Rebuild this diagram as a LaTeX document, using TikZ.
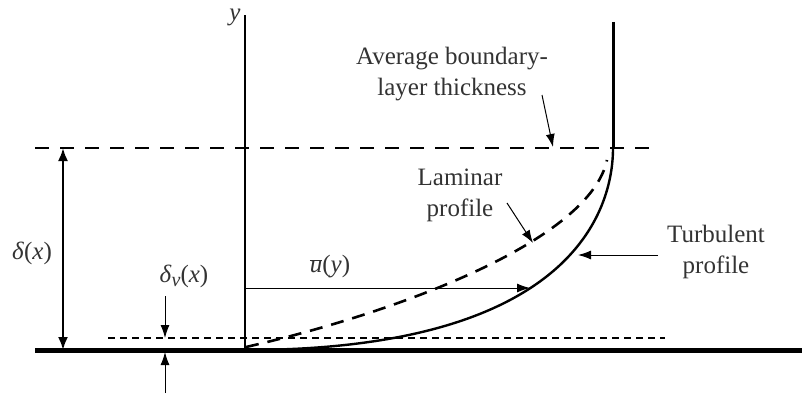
\documentclass[tikz,border=0pt]{standalone}
\usepackage{fontspec}
\setmainfont{Liberation Serif}
\usetikzlibrary{arrows.meta}
\begin{document}
\begin{tikzpicture}[x=1pt,y=-1pt,
  lbl/.style={font=\fontsize{25}{31}\selectfont, text=black!80, align=center, inner sep=1pt},
  arr/.style={-{Latex[length=13pt,width=9pt]}, line width=1pt},
  dsh/.style={dash pattern=on 14pt off 11pt, line width=1.1pt},
  dshs/.style={dash pattern=on 7pt off 5pt, line width=1.1pt},
  lamdash/.style={dash pattern=on 13pt off 9pt, line width=2.6pt}]
\useasboundingbox (0,0) rectangle (802,396);
% coordinates
\coordinate (wallL) at (35,350);
\coordinate (wallR) at (802,350);
\coordinate (o) at (245,350);
\coordinate (ytop) at (245,15);
\coordinate (edge) at (613,148);
% wall
\draw[line width=5pt] (wallL) -- (wallR);
% axis
\draw[line width=1.1pt] (o) -- (ytop);
\node[lbl] (ylab) at (235,17) {\textit{y}};
% dashed lines
\coordinate (d1) at (35,148); \coordinate (d2) at (658,148);
\draw[dsh] (d1) -- (d2);
\coordinate (v1) at (108,338); \coordinate (v2) at (665,338);
\draw[dshs] (v1) -- (v2);
% right vertical
\coordinate (rtop) at (613,22);
\draw[line width=3pt] (rtop) -- (edge);
% turbulent profile
\draw[line width=2.4pt] (o) .. controls (594,350) and (613,191) .. (edge);
% laminar profile
\coordinate (l0) at (246,347); \coordinate (l1) at (607,160);
\draw[lamdash] (l0) .. controls (400,312) and (590,240) .. (l1);
% delta arrow
\coordinate (da) at (63,148); \coordinate (db) at (63,350);
\draw[{Latex[length=13pt,width=10pt]}-{Latex[length=13pt,width=10pt]}, line width=2.2pt] (da) -- (db);
\node[lbl] (dlab) at (32,253) {\textit{δ}(\textit{x})};
% delta_v
\node[lbl] (dvlab) at (184,276) {\textit{δ}\raisebox{-0.35ex}{\fontsize{20}{20}\selectfont\textit{ν}}(\textit{x})};
\coordinate (a1) at (165,296); \coordinate (a2) at (165,338);
\draw[arr] (a1) -- (a2);
\coordinate (b1) at (165,393); \coordinate (b2) at (165,352);
\draw[arr] (b1) -- (b2);
% u(y)
\coordinate (u1) at (245,288); \coordinate (u2) at (530,288);
\draw[arr] (u1) -- (u2);
\node[lbl] (ulab) at (330,267) {$\overline{\mbox{\textit{u}}}$(\textit{y})};
% labels
\node[lbl] (avg) at (452,74) {Average boundary-\\layer thickness};
\coordinate (avA) at (542,95); \coordinate (avB) at (553,147);
\draw[arr] (avA) -- (avB);
\node[lbl] (lam) at (460,195) {Laminar\\profile};
\coordinate (laA) at (507,203); \coordinate (laB) at (533,243);
\draw[arr] (laA) -- (laB);
\node[lbl] (tur) at (716,252) {Turbulent\\profile};
\coordinate (tuA) at (658,255); \coordinate (tuB) at (578,255);
\draw[arr] (tuA) -- (tuB);
\end{tikzpicture}
\end{document}
